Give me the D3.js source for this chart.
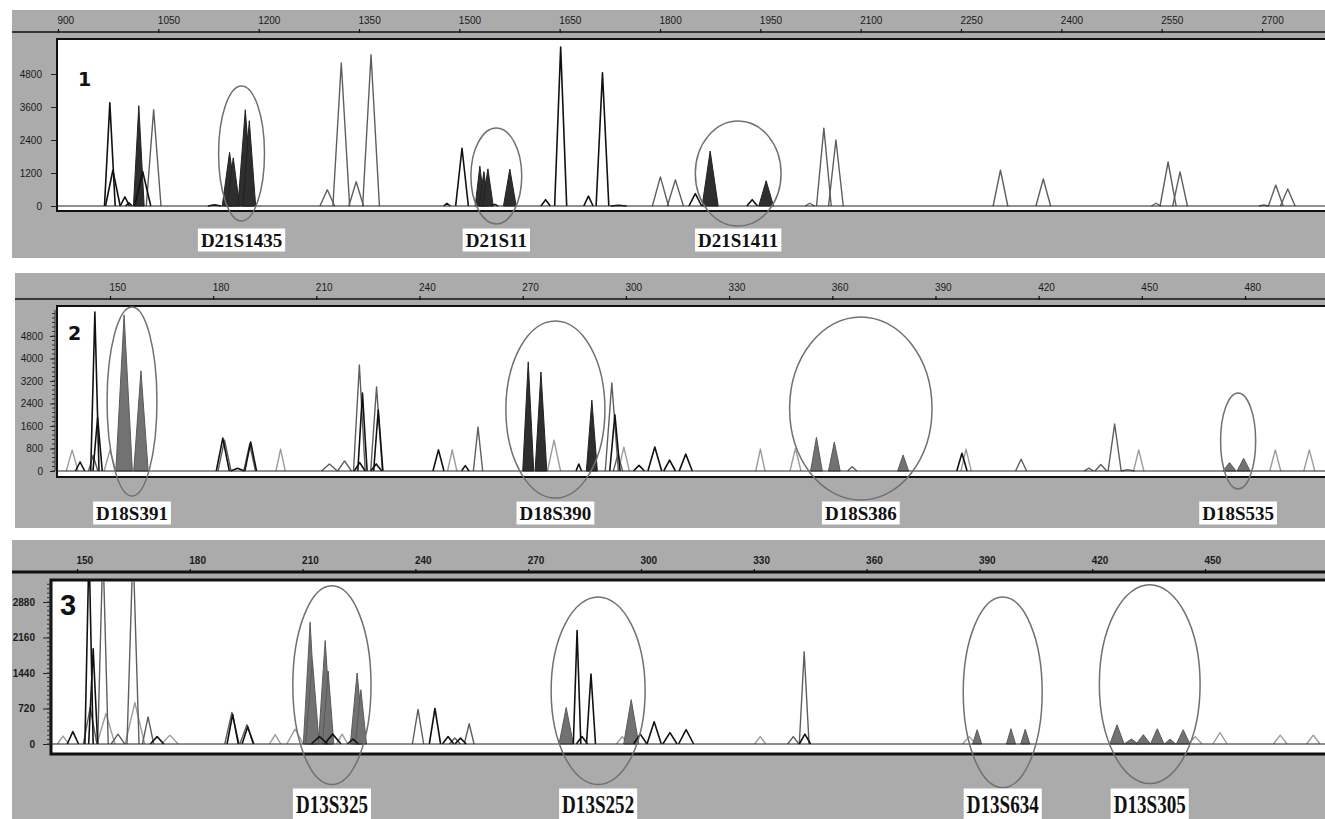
<!DOCTYPE html>
<html>
<head>
<meta charset="utf-8">
<script src="https://cdn.jsdelivr.net/npm/d3@7"></script>
<style>
body { margin: 0; background: #fff; }
svg { display: block; }
</style>
</head>
<body>
<svg id="chart" width="1325" height="819"></svg>
<script>
// peaks: [size, height (RFU), half width at base (size units), dye]
// dye: k = black trace, g = grey trace, l = light trace, K = filled black, G = filled grey
var p1Peaks = [
  [977.5, 3750, 8, 'k'], [982, 1300, 11, 'k'], [1000, 330, 7, 'k'], [1006, 120, 5, 'k'],
  [1020.8, 3650, 8, 'K'], [1026.7, 1250, 12, 'k'], [1043, 3500, 11, 'g'], [1134, 40, 10, 'k'],
  [1156.5, 1950, 11, 'K'], [1162, 1750, 9.5, 'K'], [1180, 3500, 11, 'K'], [1186, 3100, 9.5, 'K'],
  [1302.6, 590, 11, 'g'], [1323.5, 5200, 12.5, 'g'], [1345.8, 880, 11, 'g'], [1368, 5500, 12.5, 'g'],
  [1481.5, 100, 5, 'k'], [1504, 2100, 9.5, 'k'],
  [1530.7, 1450, 7, 'K'], [1536.7, 1250, 7, 'K'], [1542.7, 1350, 8, 'K'], [1553, 60, 5, 'k'],
  [1575.5, 1340, 9.5, 'K'], [1629, 230, 7, 'k'], [1651.5, 5780, 9, 'k'], [1693, 360, 7, 'k'],
  [1714, 4840, 9.5, 'k'], [1738, 30, 12, 'k'], [1800.6, 1060, 12, 'g'], [1823, 950, 12, 'g'],
  [1852.8, 450, 9.5, 'k'], [1875, 2000, 12, 'K'], [1937.8, 230, 8, 'k'], [1958.7, 920, 11, 'K'],
  [2024, 100, 7, 'g'], [2045, 2830, 11, 'g'], [2063, 2400, 11, 'g'],
  [2309, 1300, 11, 'g'], [2373, 980, 11, 'g'], [2541.7, 100, 7, 'g'], [2559.6, 1600, 12, 'g'],
  [2577.5, 1240, 11, 'g'], [2702.7, 40, 7, 'g'], [2720.6, 760, 11, 'g'], [2738.5, 620, 11, 'g']
];
// loci: [name, centre size, radius size, centre RFU, radius RFU]
var p1Loci = [
  ['D21S1435', 1174.4, 34.3, 1909, 2454],
  ['D21S11', 1555.3, 38, 1091, 1745],
  ['D21S1411', 1916.9, 64.1, 1182, 1909]
];
var p1Ticks = [900, 1050, 1200, 1350, 1500, 1650, 1800, 1950, 2100, 2250, 2400, 2550, 2700];
var p1YTicks = [0, 1200, 2400, 3600, 4800];

var p2Peaks = [
  [139.0, 750, 1.7, 'l'], [141.3, 320, 1.35, 'k'], [145.1, 550, 1.35, 'g'], [145.6, 5650, 1.2, 'k'],
  [146.4, 1900, 1.35, 'k'], [150.0, 750, 1.7, 'l'], [154.1, 5550, 2.4, 'G'], [159.0, 3560, 2.1, 'G'],
  [182.8, 1170, 1.9, 'k'], [183.3, 1100, 1.9, 'g'], [187.1, 100, 2.0, 'k'],
  [190.6, 950, 1.7, 'g'], [190.9, 1030, 1.7, 'k'], [199.6, 780, 1.35, 'l'],
  [213.8, 250, 2.3, 'g'], [218.2, 360, 2.0, 'g'], [222.5, 3770, 1.7, 'g'], [223.4, 2770, 1.35, 'k'],
  [222.6, 300, 1.6, 'k'], [227.5, 2990, 1.7, 'g'], [228.0, 2170, 1.35, 'k'], [227.4, 250, 1.6, 'k'],
  [245.5, 750, 1.6, 'k'], [249.5, 750, 1.35, 'l'], [253.3, 190, 1.1, 'k'], [257.0, 1560, 1.35, 'g'],
  [271.6, 3880, 1.6, 'K'], [275.3, 3520, 1.7, 'K'], [279.1, 1100, 1.9, 'l'], [286.3, 250, 0.8, 'k'],
  [290.1, 2520, 1.6, 'K'], [295.9, 3130, 1.9, 'g'], [296.8, 2000, 1.5, 'k'], [297.7, 600, 1.35, 'g'],
  [299.4, 850, 1.6, 'l'], [303.8, 200, 1.6, 'k'], [308.4, 850, 2.0, 'k'], [312.7, 390, 1.7, 'k'],
  [317.4, 600, 1.9, 'k'], [339.1, 780, 1.35, 'l'], [349.3, 800, 1.6, 'l'],
  [355.4, 1200, 1.7, 'G'], [360.6, 1030, 1.7, 'G'], [365.8, 150, 1.35, 'g'], [380.6, 570, 1.6, 'G'],
  [397.7, 630, 1.5, 'k'], [398.9, 780, 1.5, 'l'], [414.9, 420, 1.6, 'g'], [434.6, 100, 1.35, 'g'],
  [438.1, 230, 1.7, 'g'], [442.1, 1670, 1.9, 'g'], [445.9, 50, 2.0, 'g'], [449.1, 750, 1.5, 'l'],
  [475.5, 300, 1.9, 'G'], [479.6, 450, 1.9, 'G'], [488.8, 750, 1.6, 'l'], [498.7, 750, 1.6, 'l']
];
var p2Loci = [
  ['D18S391', 156.4, 7.25, 2471, 3360],
  ['D18S390', 279.5, 14.4, 2187, 3147],
  ['D18S386', 368.3, 20.7, 2222, 3254],
  ['D18S535', 478.0, 5.1, 1067, 1707]
];
var p2Ticks = [150, 180, 210, 240, 270, 300, 330, 360, 390, 420, 450, 480];
var p2YTicks = [0, 800, 1600, 2400, 3200, 4000, 4800];

var p3Peaks = [
  [146.3, 160, 1.5, 'l'], [148.9, 250, 1.5, 'k'], [153.2, 4000, 1.1, 'k'], [153.5, 740, 1.8, 'g'],
  [154.3, 1930, 1.2, 'k'], [156.9, 4000, 1.4, 'g'], [157.7, 620, 2.4, 'l'], [160.9, 200, 1.8, 'g'],
  [164.9, 4000, 1.6, 'g'], [165.4, 840, 2.6, 'l'], [168.9, 550, 1.5, 'g'], [171.3, 150, 1.8, 'k'],
  [174.7, 180, 2.2, 'l'], [191.2, 640, 1.9, 'g'], [191.4, 600, 1.5, 'k'], [195.2, 390, 1.9, 'g'],
  [195.4, 350, 1.5, 'k'], [202.7, 190, 1.5, 'l'], [208.0, 300, 2.2, 'l'],
  [212.0, 2470, 1.8, 'G'], [212.6, 1700, 1.8, 'G'], [214.5, 150, 2.2, 'k'],
  [216.0, 2100, 1.8, 'G'], [216.8, 1480, 1.5, 'G'], [218.0, 200, 2.2, 'k'], [220.5, 200, 1.5, 'l'],
  [223.4, 100, 1.5, 'k'], [224.5, 1440, 1.8, 'G'], [225.5, 1100, 1.5, 'G'],
  [240.7, 700, 1.5, 'g'], [245.2, 720, 1.5, 'k'], [248.7, 150, 1.5, 'k'], [250.5, 120, 1.5, 'g'],
  [252.0, 120, 1.5, 'k'], [254.3, 410, 1.3, 'g'],
  [280.1, 740, 1.9, 'G'], [283.0, 2300, 1.0, 'k'], [284.3, 150, 1.5, 'k'], [286.7, 1420, 1.2, 'k'],
  [295.0, 150, 1.5, 'l'], [297.4, 900, 2.0, 'G'], [299.8, 200, 1.8, 'k'], [303.5, 450, 1.9, 'k'],
  [307.7, 230, 1.9, 'k'], [312.0, 290, 2.0, 'k'], [331.7, 150, 1.5, 'l'], [340.5, 150, 1.5, 'g'],
  [343.4, 1870, 1.3, 'g'], [343.6, 200, 1.5, 'k'],
  [387.3, 150, 1.8, 'l'], [389.4, 290, 1.2, 'G'], [398.4, 310, 1.2, 'G'], [402.2, 300, 1.2, 'G'],
  [426.6, 390, 1.9, 'G'], [430.4, 100, 1.9, 'G'], [433.6, 190, 1.9, 'G'], [437.3, 310, 1.8, 'G'],
  [440.7, 100, 1.5, 'G'], [444.2, 290, 1.8, 'G'], [447.4, 150, 1.8, 'l'], [454.0, 230, 1.9, 'l'],
  [470.0, 180, 1.8, 'l'], [478.8, 180, 1.8, 'l']
];
var p3Loci = [
  ['D13S325', 217.8, 10.4, 1193, 2016],
  ['D13S252', 288.6, 12.5, 1080, 1903],
  ['D13S634', 396.2, 10.5, 1049, 1934],
  ['D13S305', 435.3, 13.4, 1214, 2016]
];
var p3Ticks = [150, 180, 210, 240, 270, 300, 330, 360, 390, 420, 450];
var p3YTicks = [0, 720, 1440, 2160, 2880];

var dyeStyle = {
  l: { stroke: '#9c9c9c', fill: 'none', width: 1.4, order: 0 },
  g: { stroke: '#5e5e5e', fill: 'none', width: 1.4, order: 1 },
  G: { stroke: '#5a5a5a', fill: '#727272', width: 1, order: 2 },
  K: { stroke: '#222', fill: '#2e2e2e', width: 1, order: 2 },
  k: { stroke: '#111', fill: 'none', width: 1.6, order: 3 }
};

var panels = [
  { num: '1', peaks: p1Peaks, loci: p1Loci, ticks: p1Ticks, yTicks: p1YTicks, minor: 0,
    bg: [12, 10, 1313, 248], xDom: [900, 2700], xRange: [58, 1262], yDom: [0, 4800], yRange: [206, 74],
    ruler: 32, rulerW: 1.5, top: 39, left: 57, bottom: 211, axisX: 56, tick: 5, pad: 9,
    labelY: 240, labelSize: 19, condensed: false, rulerBold: false,
    numX: 78, numY: 86, numSize: 19, numFont: 'DejaVu Sans' },
  { num: '2', peaks: p2Peaks, loci: p2Loci, ticks: p2Ticks, yTicks: p2YTicks, minor: 160,
    bg: [15, 273, 1310, 255], xDom: [150, 480], xRange: [110, 1245], yDom: [0, 4800], yRange: [471, 336],
    ruler: 299, rulerW: 1.5, top: 306, left: 57, bottom: 477, axisX: 55, tick: 5, pad: 7,
    labelY: 513, labelSize: 19, condensed: false, rulerBold: false,
    numX: 68, numY: 340, numSize: 19, numFont: 'DejaVu Sans' },
  { num: '3', peaks: p3Peaks, loci: p3Loci, ticks: p3Ticks, yTicks: p3YTicks, minor: 90,
    bg: [12, 540, 1313, 279], xDom: [150, 450], xRange: [77, 1205], yDom: [0, 2880], yRange: [744, 602],
    ruler: 572, rulerW: 3, top: 580, left: 51, bottom: 754, axisX: 50, tick: 7, pad: 8,
    labelY: 804, labelSize: 26, condensed: true, rulerBold: true,
    numX: 60, numY: 615, numSize: 29, numFont: 'Liberation Sans' }
];

var svg = d3.select('#chart');

function drawPanel(P, idx) {
  var g = svg.append('g');
  var x = d3.scaleLinear().domain(P.xDom).range(P.xRange);
  var y = d3.scaleLinear().domain(P.yDom).range(P.yRange);
  var right = 1325;

  g.append('rect')
    .attr('x', P.bg[0]).attr('y', P.bg[1])
    .attr('width', P.bg[2]).attr('height', P.bg[3])
    .attr('fill', '#ababab');

  // ruler on top
  g.append('line')
    .attr('x1', P.bg[0]).attr('x2', right)
    .attr('y1', P.ruler).attr('y2', P.ruler)
    .attr('stroke', '#111').attr('stroke-width', P.rulerW);
  var ruler = g.append('g')
    .attr('transform', 'translate(0,' + (P.ruler + 1) + ')')
    .call(d3.axisTop(x).tickValues(P.ticks).tickSize(4).tickSizeOuter(0).tickFormat(d3.format('d')));
  ruler.select('.domain').remove();
  ruler.selectAll('line').attr('stroke', '#111').attr('stroke-width', 1.2);
  ruler.selectAll('text')
    .attr('text-anchor', 'start').attr('x', -1).attr('y', -9)
    .attr('fill', '#1a1a1a')
    .style('font-family', 'Liberation Sans, Arial, sans-serif')
    .style('font-size', '10px')
    .style('font-weight', P.rulerBold ? 'bold' : 'normal');

  // plot box
  g.append('rect')
    .attr('x', P.left).attr('y', P.top)
    .attr('width', right - P.left).attr('height', P.bottom - P.top)
    .attr('fill', '#fff');
  g.append('path')
    .attr('d', 'M' + right + ',' + P.top + 'H' + P.left + 'V' + P.bottom + 'H' + right)
    .attr('fill', 'none').attr('stroke', '#111').attr('stroke-width', P.rulerW > 2 ? 3 : 2);

  // y axis
  var yAxis = g.append('g')
    .attr('transform', 'translate(' + P.axisX + ',0)')
    .call(d3.axisLeft(y).tickValues(P.yTicks).tickSize(P.tick).tickPadding(P.pad)
      .tickSizeOuter(0).tickFormat(d3.format('d')));
  yAxis.select('.domain').remove();
  yAxis.selectAll('line').attr('stroke', '#222');
  yAxis.selectAll('text')
    .attr('fill', '#1a1a1a')
    .style('font-family', 'Liberation Sans, Arial, sans-serif')
    .style('font-size', '10px')
    .style('font-weight', P.rulerBold ? 'bold' : 'normal');
  if (P.minor) {
    var maxV = y.invert(P.top + 4);
    var minorVals = d3.range(0, maxV, P.minor);
    g.append('g').selectAll('line').data(minorVals).join('line')
      .attr('x1', P.axisX - 3).attr('x2', P.axisX)
      .attr('y1', function (d) { return y(d); }).attr('y2', function (d) { return y(d); })
      .attr('stroke', '#333').attr('stroke-width', 1);
    g.append('line')
      .attr('x1', P.axisX).attr('x2', P.axisX)
      .attr('y1', y(maxV)).attr('y2', y(0))
      .attr('stroke', '#333').attr('stroke-width', 1);
  }

  // traces
  var clipId = 'clip' + idx;
  svg.append('clipPath').attr('id', clipId).append('rect')
    .attr('x', P.left + 1).attr('y', P.top + 1)
    .attr('width', right - P.left).attr('height', y(0) - P.top + 0.5);
  var plot = g.append('g').attr('clip-path', 'url(#' + clipId + ')');

  var line = d3.line()
    .x(function (d) { return x(d[0]); })
    .y(function (d) { return y(d[1]); });

  var sorted = P.peaks.slice().sort(function (a, b) {
    return dyeStyle[a[3]].order - dyeStyle[b[3]].order;
  });
  plot.selectAll('path.peak').data(sorted).join('path')
    .attr('class', 'peak')
    .attr('d', function (d) {
      var pts = [[d[0] - d[2], 0], [d[0], d[1]], [d[0] + d[2], 0]];
      return line(pts) + (dyeStyle[d[3]].fill !== 'none' ? 'Z' : '');
    })
    .attr('fill', function (d) { return dyeStyle[d[3]].fill; })
    .attr('stroke', function (d) { return dyeStyle[d[3]].stroke; })
    .attr('stroke-width', function (d) { return dyeStyle[d[3]].width; })
    .attr('stroke-linejoin', 'round');

  g.append('line')
    .attr('x1', P.left).attr('x2', right)
    .attr('y1', y(0)).attr('y2', y(0))
    .attr('stroke', '#222').attr('stroke-width', 1.2);

  // locus circles
  g.selectAll('ellipse').data(P.loci).join('ellipse')
    .attr('cx', function (d) { return x(d[1]); })
    .attr('cy', function (d) { return y(d[3]); })
    .attr('rx', function (d) { return x(d[1] + d[2]) - x(d[1]); })
    .attr('ry', function (d) { return y(0) - y(d[4]); })
    .attr('fill', 'none').attr('stroke', '#707070').attr('stroke-width', 1.5);

  // locus names
  P.loci.forEach(function (d) {
    var lg = g.append('g');
    var bgRect = lg.append('rect').attr('fill', '#fff');
    var t = lg.append('text')
      .attr('x', x(d[1])).attr('y', P.labelY)
      .attr('text-anchor', 'middle')
      .attr('dominant-baseline', 'central')
      .style('font-family', 'Liberation Serif, Times New Roman, serif')
      .style('font-weight', 'bold')
      .style('font-size', P.labelSize + 'px')
      .attr('fill', '#111')
      .text(d[0]);
    if (P.condensed) {
      t.attr('textLength', d[0].length * 10.3).attr('lengthAdjust', 'spacingAndGlyphs');
    }
    var b = t.node().getBBox();
    bgRect.attr('x', b.x - 3).attr('y', b.y - 1)
      .attr('width', b.width + 6).attr('height', b.height + 2);
  });

  g.append('text')
    .attr('x', P.numX).attr('y', P.numY)
    .style('font-family', P.numFont)
    .style('font-weight', 'bold')
    .style('font-size', P.numSize + 'px')
    .attr('fill', '#111')
    .text(P.num);
}

panels.forEach(drawPanel);
</script>
</body>
</html>
